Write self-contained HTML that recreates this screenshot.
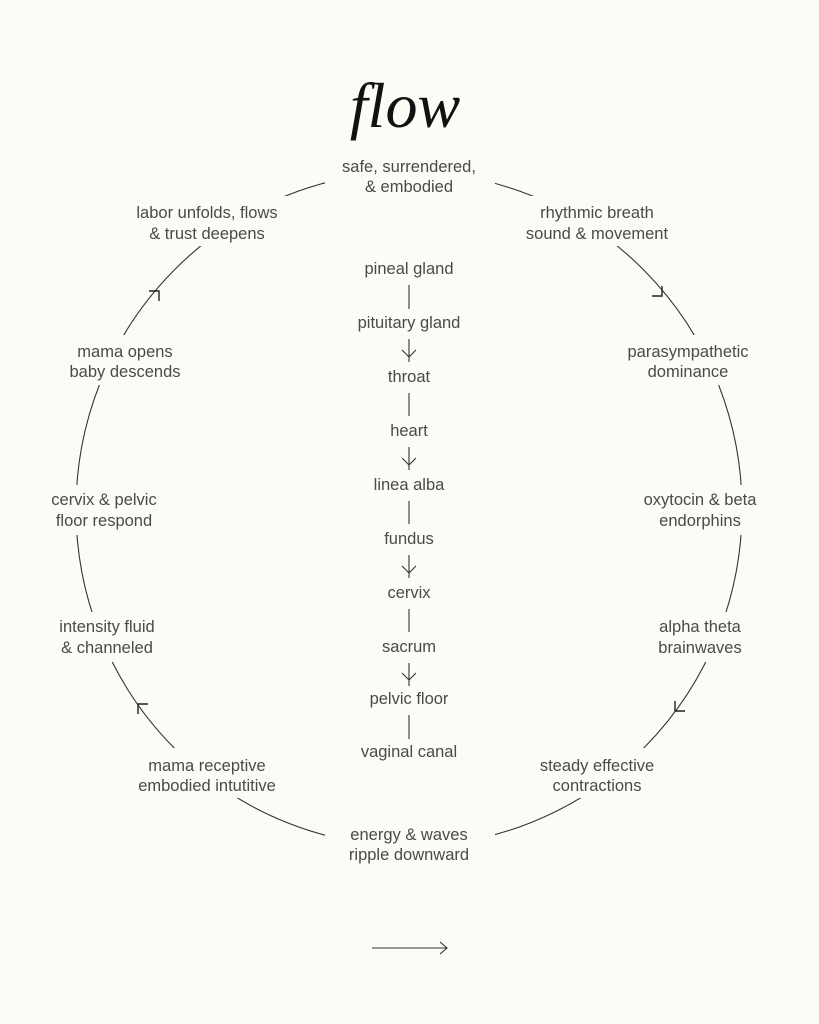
<!DOCTYPE html>
<html><head><meta charset="utf-8"><style>
html,body{margin:0;padding:0;background:#fcfbf6;}
svg{display:block}
text{font-family:"Liberation Sans",sans-serif;font-size:16.5px;fill:#4a4a4a;text-anchor:middle;}
.t{font-family:"Liberation Serif",serif;font-style:italic;font-size:64px;fill:#111;}
</style></head><body>
<svg width="819" height="1024" viewBox="0 0 819 1024" xmlns="http://www.w3.org/2000/svg">
<rect width="819" height="1024" fill="#fcfbf6"/>
<ellipse cx="409" cy="509" rx="333" ry="337" fill="none" stroke="#333" stroke-width="1.1"/>
<g fill="#fcfbf6">
<rect x="325" y="150" width="170" height="50"/>
<rect x="118" y="196" width="178" height="50"/>
<rect x="505" y="196" width="190" height="50"/>
<rect x="50" y="335" width="150" height="50"/>
<rect x="605" y="335" width="170" height="50"/>
<rect x="30" y="485" width="150" height="50"/>
<rect x="620" y="485" width="160" height="50"/>
<rect x="40" y="612" width="140" height="50"/>
<rect x="635" y="612" width="130" height="50"/>
<rect x="115" y="748" width="185" height="50"/>
<rect x="515" y="748" width="160" height="50"/>
<rect x="325" y="818" width="170" height="52"/>
</g>
<g stroke="#222" stroke-width="1.4" fill="none">
<path d="M149 291 L159 291 L159 301"/>
<path d="M652 296 L662 296 L662 286"/>
<path d="M675 701 L675 711 L685 711"/>
<path d="M138 714 L138 704 L148 704"/>
</g>
<text class="t" x="405" y="127">flow</text>
<text x="409" y="172">safe, surrendered,</text>
<text x="409" y="192">&amp; embodied</text>
<text x="207" y="218">labor unfolds, flows</text>
<text x="207" y="239">&amp; trust deepens</text>
<text x="597" y="218">rhythmic breath</text>
<text x="597" y="239">sound &amp; movement</text>
<text x="125" y="357">mama opens</text>
<text x="125" y="377">baby descends</text>
<text x="688" y="357">parasympathetic</text>
<text x="688" y="377">dominance</text>
<text x="104" y="505">cervix &amp; pelvic</text>
<text x="104" y="526">floor respond</text>
<text x="700" y="505">oxytocin &amp; beta</text>
<text x="700" y="526">endorphins</text>
<text x="107" y="632">intensity fluid</text>
<text x="107" y="653">&amp; channeled</text>
<text x="700" y="632">alpha theta</text>
<text x="700" y="653">brainwaves</text>
<text x="207" y="771">mama receptive</text>
<text x="207" y="791">embodied intutitive</text>
<text x="597" y="771">steady effective</text>
<text x="597" y="791">contractions</text>
<text x="409" y="840">energy &amp; waves</text>
<text x="409" y="860">ripple downward</text>
<text x="409" y="274">pineal gland</text>
<text x="409" y="328">pituitary gland</text>
<text x="409" y="382">throat</text>
<text x="409" y="436">heart</text>
<text x="409" y="490">linea alba</text>
<text x="409" y="544">fundus</text>
<text x="409" y="598">cervix</text>
<text x="409" y="652">sacrum</text>
<text x="409" y="704">pelvic floor</text>
<text x="409" y="757">vaginal canal</text>
<g stroke="#333" stroke-width="1.1" fill="none">
<path d="M409 285 V309"/>
<path d="M409 339 V362 M402 350 L409 357 L416 350"/>
<path d="M409 393 V416"/>
<path d="M409 447 V470 M402 458 L409 465 L416 458"/>
<path d="M409 501 V524"/>
<path d="M409 555 V578 M402 566 L409 573 L416 566"/>
<path d="M409 609 V632"/>
<path d="M409 663 V686 M402 673 L409 680 L416 673"/>
<path d="M409 715 V739"/>
<path d="M372 948 H447 M440 942 L447 948 L440 954"/>
</g>
</svg>
</body></html>
